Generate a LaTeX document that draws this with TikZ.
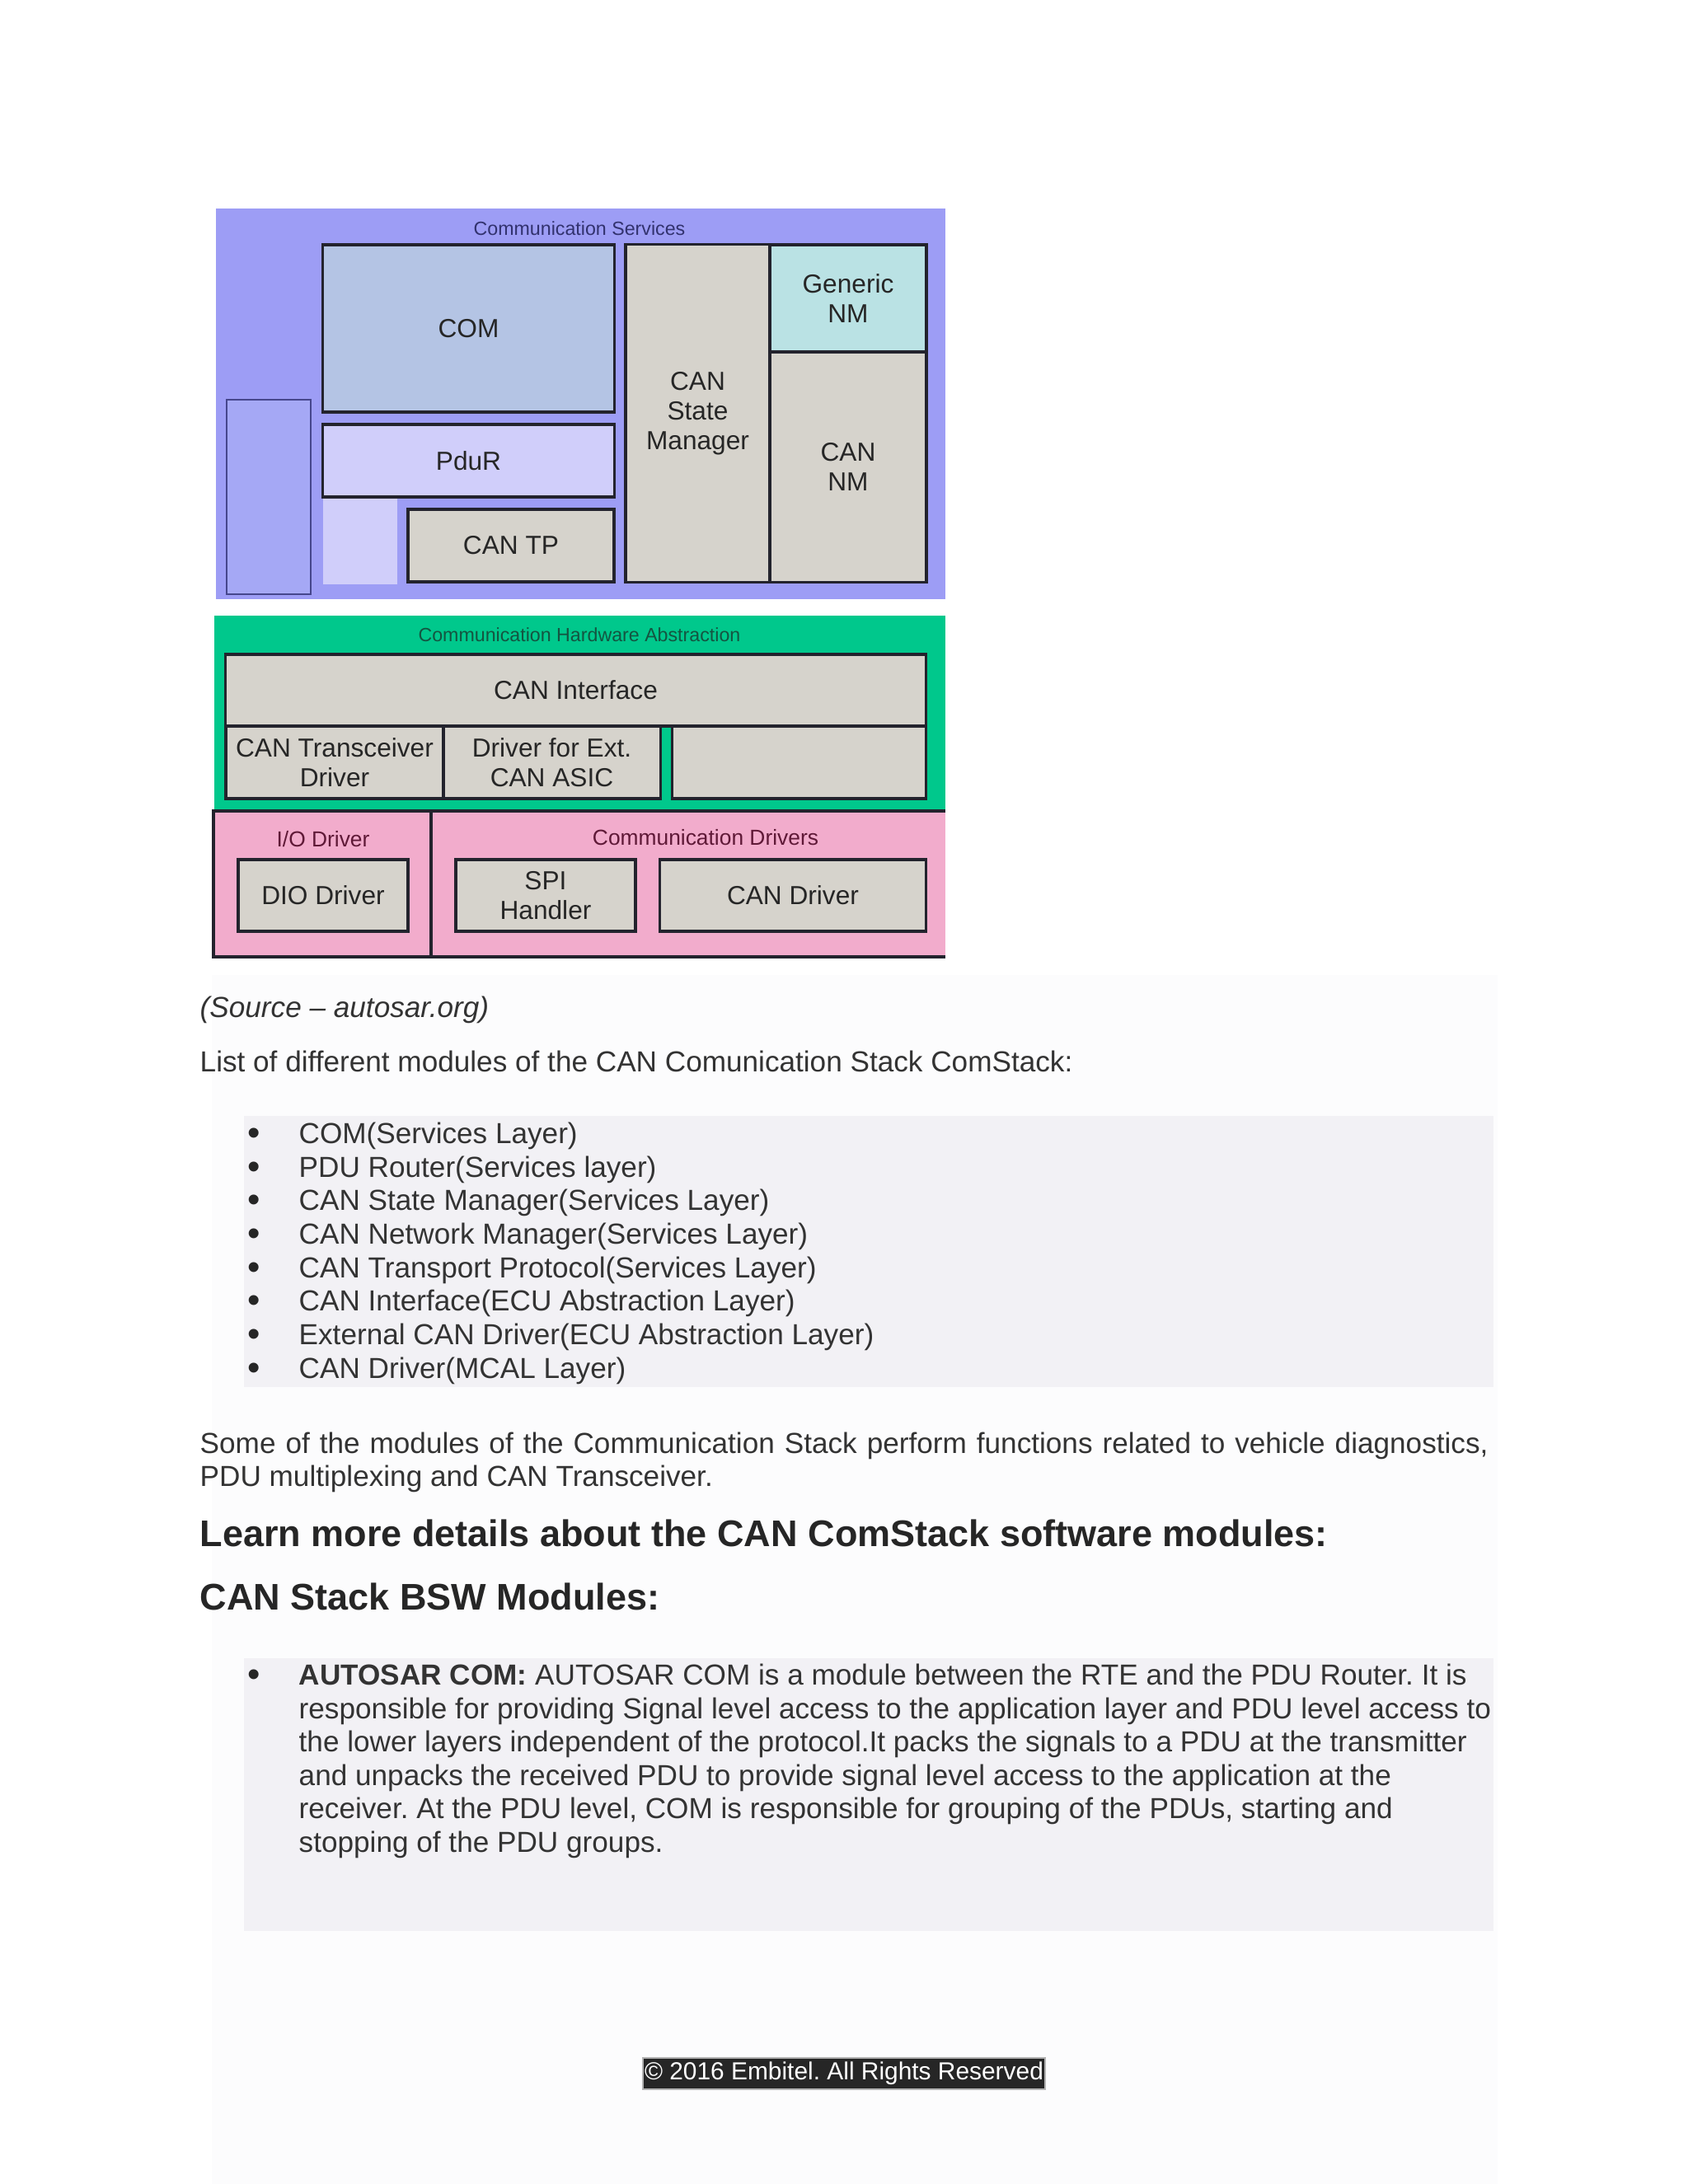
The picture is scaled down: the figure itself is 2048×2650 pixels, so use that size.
\documentclass[tikz,border=0pt]{standalone}
\usepackage{fontspec}
\setmainfont{Liberation Sans}
\usepackage{xcolor}
\usepackage{tikz}
\usetikzlibrary{positioning}
\frenchspacing

\definecolor{srvblue}{RGB}{157,157,245}
\definecolor{srvside}{RGB}{165,168,245}
\definecolor{srvedge}{RGB}{70,70,140}
\definecolor{comfill}{RGB}{180,196,228}
\definecolor{pdurfill}{RGB}{208,206,250}
\definecolor{modgray}{RGB}{214,211,204}
\definecolor{nmcyan}{RGB}{186,226,228}
\definecolor{hwgreen}{RGB}{0,200,140}
\definecolor{drvpink}{RGB}{242,172,204}
\definecolor{edgedark}{RGB}{35,35,45}
\definecolor{listgray}{RGB}{242,241,245}
\definecolor{bodytext}{RGB}{51,51,51}
\definecolor{srvtitle}{RGB}{50,50,110}
\definecolor{hwtitle}{RGB}{20,85,65}
\definecolor{drvtitle}{RGB}{95,25,55}
\definecolor{footbg}{RGB}{38,38,38}
\definecolor{pagetint}{RGB}{252,252,253}

\begin{document}
\begin{tikzpicture}[
  x=0.01cm, y=-0.01cm,
  module/.style={draw=edgedark, line width=0.9pt, rectangle, inner sep=0pt, align=center, text=black!85, font=\fontsize{9}{10.2}\selectfont},
  graymod/.style={module, fill=modgray},
  layertitle/.style={inner sep=0pt, font=\fontsize{6.6}{7}\selectfont},
  bodyline/.style={anchor=base west, inner sep=0pt, text=bodytext, font=\fontsize{10}{12}\selectfont},
  itemdot/.style={bodyline, text=black!85, font=\fontsize{12.5}{12}\selectfont},
  headline/.style={anchor=base west, inner sep=0pt, text=black!85, font=\bfseries\fontsize{12.8}{15}\selectfont}
]
\useasboundingbox (0,0) rectangle (2048,2650);
\fill[white] (0,0) rectangle (2048,2650);
\fill[pagetint] (257,1183) rectangle (1817,2650);

% communication services
\fill[srvblue] (262,253) rectangle (1147,727);
\node[layertitle, text=srvtitle] (srvtitle) at (703,277) {Communication Services};
\node[module, draw=srvedge, line width=0.5pt, fill=srvside, minimum width=1.02cm, minimum height=2.36cm] (srvleft) at (326,603) {};
\node[module, fill=comfill, minimum width=3.53cm, minimum height=2.03cm] (com) at (568.5,398.5) {COM};
\node[module, fill=pdurfill, minimum width=3.53cm, minimum height=0.88cm] (pdur) at (568.5,559) {PduR};
\node[fill=pdurfill, inner sep=0pt, minimum width=0.9cm, minimum height=1.04cm] (pdurpatch) at (437,657) {};
\node[graymod, minimum width=2.5cm, minimum height=0.88cm] (cantp) at (620,662) {CAN TP};
\node[graymod, minimum width=1.75cm, minimum height=4.09cm] (cansm) at (846.5,501.5) {CAN\\State\\Manager};
\node[module, fill=nmcyan, minimum width=1.9cm, minimum height=1.3cm] (gennm) at (1029,362) {Generic\\NM};
\node[graymod, minimum width=1.9cm, minimum height=2.79cm] (cannm) at (1029,566.5) {CAN\\NM};

% communication hardware abstraction
\fill[hwgreen] (260,747) rectangle (1147,982);
\node[layertitle, text=hwtitle] (hwtitle) at (703,770) {Communication Hardware Abstraction};
\node[graymod, minimum width=8.49cm, minimum height=0.87cm] (canif) at (698.5,837.5) {CAN Interface};
\node[graymod, minimum width=2.64cm, minimum height=0.88cm] (cantrcv) at (406,925) {CAN Transceiver\\Driver};
\node[graymod, minimum width=2.63cm, minimum height=0.88cm] (extasic) at (669.5,925) {Driver for Ext.\\CAN ASIC};
\node[graymod, minimum width=3.07cm, minimum height=0.88cm] (hwspare) at (969.5,925) {};

% drivers
\fill[drvpink] (259,984) rectangle (1147,1161);
\draw[edgedark, line width=0.9pt] (1147,984) -- (259,984) -- (259,1161) -- (1147,1161);
\draw[edgedark, line width=0.9pt] (523,984) -- (523,1161);
\node[layertitle, text=drvtitle, font=\fontsize{7.5}{8}\selectfont] (iotitle) at (392,1018) {I/O Driver};
\node[layertitle, text=drvtitle, font=\fontsize{7.5}{8}\selectfont] (drvtitle) at (856,1016) {Communication Drivers};
\node[graymod, minimum width=2.06cm, minimum height=0.87cm] (dio) at (392,1086.5) {DIO Driver};
\node[graymod, minimum width=2.18cm, minimum height=0.87cm] (spi) at (662,1086.5) {SPI\\Handler};
\node[graymod, minimum width=3.22cm, minimum height=0.87cm] (candrv) at (962,1086.5) {CAN Driver};

% text below the figure
\node[bodyline, font=\itshape\fontsize{10}{12}\selectfont] (source) at (242,1234) {(Source – autosar.org)};
\node[bodyline] (listintro) at (242,1300) {List of different modules of the CAN Comunication Stack ComStack:};

\fill[listgray] (296,1354) rectangle (1812,1683);
\node[itemdot] (dot1) at (300,1389) {•};
\node[bodyline] (item1) at (362,1387) {COM(Services Layer)};
\node[itemdot] (dot2) at (300,1430) {•};
\node[bodyline] (item2) at (362,1428) {PDU Router(Services layer)};
\node[itemdot] (dot3) at (300,1470) {•};
\node[bodyline] (item3) at (362,1468) {CAN State Manager(Services Layer)};
\node[itemdot] (dot4) at (300,1511) {•};
\node[bodyline] (item4) at (362,1509) {CAN Network Manager(Services Layer)};
\node[itemdot] (dot5) at (300,1552) {•};
\node[bodyline] (item5) at (362,1550) {CAN Transport Protocol(Services Layer)};
\node[itemdot] (dot6) at (300,1592) {•};
\node[bodyline] (item6) at (362,1590) {CAN Interface(ECU Abstraction Layer)};
\node[itemdot] (dot7) at (300,1633) {•};
\node[bodyline] (item7) at (362,1631) {External CAN Driver(ECU Abstraction Layer)};
\node[itemdot] (dot8) at (300,1674) {•};
\node[bodyline] (item8) at (362,1672) {CAN Driver(MCAL Layer)};

\node[bodyline] (diag1) at (242,1763) {\makebox[15.62cm][s]{Some of the modules of the Communication Stack perform functions related to vehicle diagnostics,}};
\node[bodyline] (diag2) at (242,1803) {PDU multiplexing and CAN Transceiver.};

\node[headline] (learnmore) at (242,1876) {Learn more details about the CAN ComStack software modules:};
\node[headline] (bswhead) at (242,1953) {CAN Stack BSW Modules:};

\fill[listgray] (296,2012) rectangle (1812,2343);
\node[itemdot] (comdot) at (300,2046) {•};
\node[bodyline] (com1) at (362,2044) {\textbf{AUTOSAR COM:} AUTOSAR COM is a module between the RTE and the PDU Router. It is};
\node[bodyline] (com2) at (362,2085) {responsible for providing Signal level access to the application layer and PDU level access to};
\node[bodyline] (com3) at (362,2125) {the lower layers independent of the protocol.It packs the signals to a PDU at the transmitter};
\node[bodyline] (com4) at (362,2166) {and unpacks the received PDU to provide signal level access to the application at the};
\node[bodyline] (com5) at (362,2206) {receiver. At the PDU level, COM is responsible for grouping of the PDUs, starting and};
\node[bodyline] (com6) at (362,2247) {stopping of the PDU groups.};

% footer
\node[fill=footbg, draw=gray!60, line width=0.4pt, text=white, inner sep=0pt, minimum width=4.88cm, minimum height=0.38cm, font=\fontsize{8.5}{10}\selectfont] (footer) at (1024,2516) {© 2016 Embitel. All Rights Reserved};
\end{tikzpicture}
\end{document}
